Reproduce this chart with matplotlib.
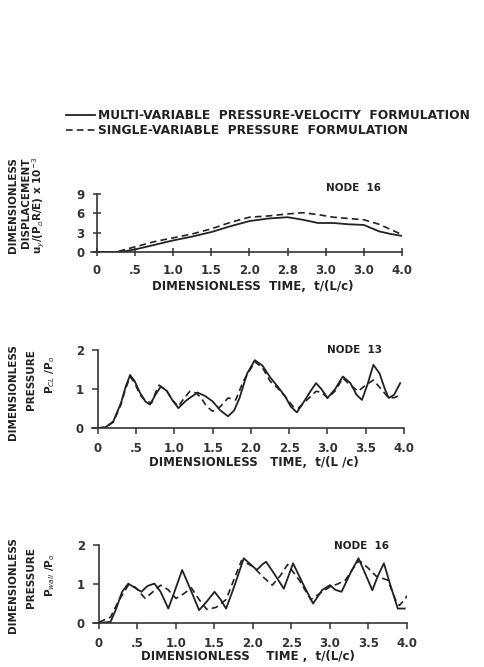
import matplotlib.pyplot as plt
import numpy as np

# top panel: displacement, node 16
t_disp_multi = [0, 0.3, 0.5, 0.75, 1.0, 1.25, 1.5, 1.75, 2.0, 2.25, 2.5, 2.7, 2.9, 3.1, 3.3, 3.5, 3.7, 3.85, 4.0]
u_disp_multi = [0, 0, 0.4, 1.1, 1.8, 2.4, 3.1, 4.0, 4.8, 5.2, 5.4, 5.0, 4.5, 4.5, 4.3, 4.2, 3.2, 2.8, 2.5]
t_disp_single = [0, 0.25, 0.5, 0.75, 1.0, 1.25, 1.5, 1.75, 2.0, 2.25, 2.5, 2.7, 2.9, 3.1, 3.3, 3.5, 3.7, 3.85, 4.0]
u_disp_single = [0, 0, 0.8, 1.6, 2.2, 2.8, 3.6, 4.6, 5.4, 5.6, 5.9, 6.1, 5.8, 5.4, 5.2, 5.0, 4.3, 3.5, 2.7]

# middle panel: centreline pressure, node 13
t_pc_multi = [0, 0.1, 0.2, 0.3, 0.36, 0.42, 0.48, 0.55, 0.62, 0.68, 0.75, 0.82, 0.9, 0.97, 1.05, 1.15, 1.3, 1.4,
              1.5, 1.6, 1.7, 1.78, 1.85, 1.95, 2.05, 2.15, 2.25, 2.35, 2.45, 2.52, 2.6, 2.7, 2.78, 2.85, 2.92, 3.0,
              3.1, 3.2, 3.3, 3.38, 3.45, 3.52, 3.6, 3.68, 3.75, 3.8, 3.87, 3.95]
p_pc_multi = [0, 0.02, 0.17, 0.64, 1.05, 1.36, 1.2, 0.9, 0.68, 0.6, 0.85, 1.06, 0.95, 0.72, 0.51, 0.7, 0.91, 0.82,
              0.68, 0.45, 0.3, 0.45, 0.77, 1.4, 1.74, 1.6, 1.3, 1.06, 0.8, 0.55, 0.4, 0.7, 0.95, 1.15, 1.0, 0.77,
              1.0, 1.32, 1.15, 0.85, 0.72, 1.1, 1.62, 1.4, 1.0, 0.77, 0.85, 1.15]
t_pc_single = [0, 0.1, 0.2, 0.3, 0.36, 0.42, 0.48, 0.55, 0.62, 0.7, 0.75, 0.8, 0.9, 0.97, 1.05, 1.12, 1.2, 1.28,
               1.35, 1.42, 1.5, 1.6, 1.7, 1.8, 1.9, 2.05, 2.15, 2.25, 2.35, 2.45, 2.55, 2.62, 2.72, 2.85, 2.92,
               3.0, 3.1, 3.2, 3.3, 3.4, 3.5, 3.6, 3.7, 3.8, 3.88, 3.95]
p_pc_single = [0, 0.02, 0.15, 0.6, 1.0, 1.32, 1.15, 0.85, 0.7, 0.64, 0.9, 1.1, 0.95, 0.72, 0.55, 0.75, 0.94, 0.9,
               0.77, 0.55, 0.43, 0.55, 0.77, 0.72, 1.2, 1.7, 1.55, 1.2, 1.02, 0.8, 0.55, 0.51, 0.7, 0.94, 0.92,
               0.77, 0.95, 1.28, 1.1, 0.94, 1.1, 1.23, 1.0, 0.77, 0.78, 0.85]

# bottom panel: wall pressure, node 16
t_pw_multi = [0, 0.15, 0.22, 0.3, 0.38, 0.47, 0.55, 0.63, 0.72, 0.8, 0.9, 0.98, 1.08, 1.18, 1.3, 1.4, 1.5, 1.58,
              1.65, 1.75, 1.88, 1.97, 2.05, 2.12, 2.17, 2.28, 2.4, 2.46, 2.52, 2.65, 2.78, 2.9, 3.0, 3.07, 3.15,
              3.27, 3.37, 3.45, 3.55, 3.62, 3.7, 3.78, 3.88, 3.97]
p_pw_multi = [0, 0.03, 0.35, 0.8, 1.01, 0.9, 0.8, 0.95, 1.01, 0.8, 0.37, 0.8, 1.36, 0.9, 0.33, 0.55, 0.8, 0.6,
              0.37, 0.9, 1.66, 1.5, 1.36, 1.5, 1.57, 1.25, 0.88, 1.2, 1.53, 1.0, 0.5, 0.85, 0.97, 0.85, 0.8,
              1.3, 1.66, 1.3, 0.84, 1.2, 1.53, 1.0, 0.37, 0.37]
t_pw_single = [0, 0.15, 0.25, 0.38, 0.47, 0.6, 0.7, 0.8, 0.9, 1.0, 1.1, 1.2, 1.3, 1.4, 1.52, 1.65, 1.75, 1.85,
               2.0, 2.12, 2.25, 2.35, 2.45, 2.6, 2.75, 2.9, 3.0, 3.1, 3.2, 3.3, 3.38, 3.5, 3.6, 3.75, 3.85, 3.9,
               3.97, 4.0]
p_pw_single = [0.02, 0.15, 0.55, 0.97, 0.92, 0.63, 0.8, 0.97, 0.85, 0.63, 0.75, 0.9, 0.6, 0.35, 0.4, 0.6, 1.1,
               1.6, 1.45, 1.2, 0.97, 1.2, 1.5, 1.1, 0.6, 0.8, 0.93, 1.0, 1.1, 1.4, 1.6, 1.4, 1.2, 1.1, 0.6, 0.45,
               0.6, 0.7]

xticks = [0, 0.5, 1.0, 1.5, 2.0, 2.5, 3.0, 3.5, 4.0]
xlabels_top = ["0", ".5", "1.0", "1.5", "2.0", "2.8", "3.0", "3.0", "4.0"]
xlabels = ["0", ".5", "1.0", "1.5", "2.0", "2.5", "3.0", "3.5", "4.0"]

W, H = 485, 667
fig = plt.figure(figsize=(W / 100, H / 100), dpi=100)


def box(x0, x1, y_top, y_bot):
    return [x0 / W, 1 - y_bot / H, (x1 - x0) / W, (y_bot - y_top) / H]


ax1 = fig.add_axes(box(97, 402, 194, 252))
ax2 = fig.add_axes(box(98, 404, 350, 428))
ax3 = fig.add_axes(box(99, 407, 545, 623))

ink = "#222"
l1, = ax1.plot(t_disp_multi, u_disp_multi, color=ink, lw=1.3)
l2, = ax1.plot(t_disp_single, u_disp_single, color=ink, lw=1.2, ls=(0, (4, 2.5)))
ax2.plot(t_pc_multi, p_pc_multi, color=ink, lw=1.3)
ax2.plot(t_pc_single, p_pc_single, color=ink, lw=1.2, ls=(0, (4, 2.5)))
ax3.plot(t_pw_multi, p_pw_multi, color=ink, lw=1.3)
ax3.plot(t_pw_single, p_pw_single, color=ink, lw=1.2, ls=(0, (4, 2.5)))

for ax, ymax, yt, labs in [(ax1, 9, [0, 3, 6, 9], xlabels_top), (ax2, 2, [0, 1, 2], xlabels), (ax3, 2, [0, 1, 2], xlabels)]:
    ax.set_xlim(0, 4.0)
    ax.set_ylim(0, ymax)
    ax.set_xticks(xticks)
    ax.set_xticklabels(labs)
    ax.set_yticks(yt)
    ax.spines[["top", "right"]].set_visible(False)
    ax.spines[["left", "bottom"]].set_linewidth(1.2)
    ax.spines["left"].set_color("#333")
    ax.spines["bottom"].set_color("#333")
    ax.spines["bottom"].set_bounds(-0.08, 4.0)
    ax.tick_params(axis="both", direction="out", length=4, width=1.1, colors="#333", labelsize=8.5, pad=6)
    for lab in ax.get_xticklabels() + ax.get_yticklabels():
        lab.set_fontweight("bold")
    ax.patch.set_alpha(0)

ax1.tick_params(axis="y", direction="inout", length=6)
ax1.tick_params(axis="x", direction="inout", length=6)

txt = dict(fontsize=7.5, fontweight="bold", color=ink)
ax1.text(3.0, 9.4, "NODE  16", **txt)
ax2.text(3.0, 1.92, "NODE  13", **txt)
ax3.text(3.05, 1.9, "NODE  16", **txt)

xl = dict(fontsize=8.5, fontweight="bold", color=ink, ha="center", va="center")
fig.text(253 / W, 1 - 287 / H, "DIMENSIONLESS  TIME,  t/(L/c)", **xl)
fig.text(254 / W, 1 - 462 / H, "DIMENSIONLESS   TIME,  t/(L /c)", **xl)
fig.text(248 / W, 1 - 657 / H, "DIMENSIONLESS    TIME ,  t/(L/c)", **xl)

ylab = dict(fontsize=7.5, fontweight="bold", color=ink, rotation=90, ha="center", va="center")
fig.text(13 / W, 1 - 205 / H, "DIMENSIONLESS", **ylab)
fig.text(26 / W, 1 - 203 / H, "DISPLACEMENT", **ylab)
fig.text(39 / W, 1 - 205 / H, "u$_y$/(P$_o$R/E) x 10$^{-3}$", **ylab)
fig.text(13 / W, 1 - 392 / H, "DIMENSIONLESS", **ylab)
fig.text(31 / W, 1 - 380 / H, "PRESSURE", **ylab)
fig.text(50 / W, 1 - 375 / H, "P$_{CL}$ /P$_o$", **ylab)
fig.text(13 / W, 1 - 585 / H, "DIMENSIONLESS", **ylab)
fig.text(31 / W, 1 - 578 / H, "PRESSURE", **ylab)
fig.text(50 / W, 1 - 575 / H, "P$_{wall}$ /P$_o$", **ylab)

fig.legend([l1, l2], ["MULTI-VARIABLE  PRESSURE-VELOCITY  FORMULATION", "SINGLE-VARIABLE  PRESSURE  FORMULATION"],
           loc="upper left", bbox_to_anchor=(55 / W, 1 - 98 / H), frameon=False, handlelength=2.4,
           handletextpad=0.2, labelspacing=0.15, prop=dict(size=8.8, weight="bold"), labelcolor=ink)

fig.savefig("out.png", dpi=100)
